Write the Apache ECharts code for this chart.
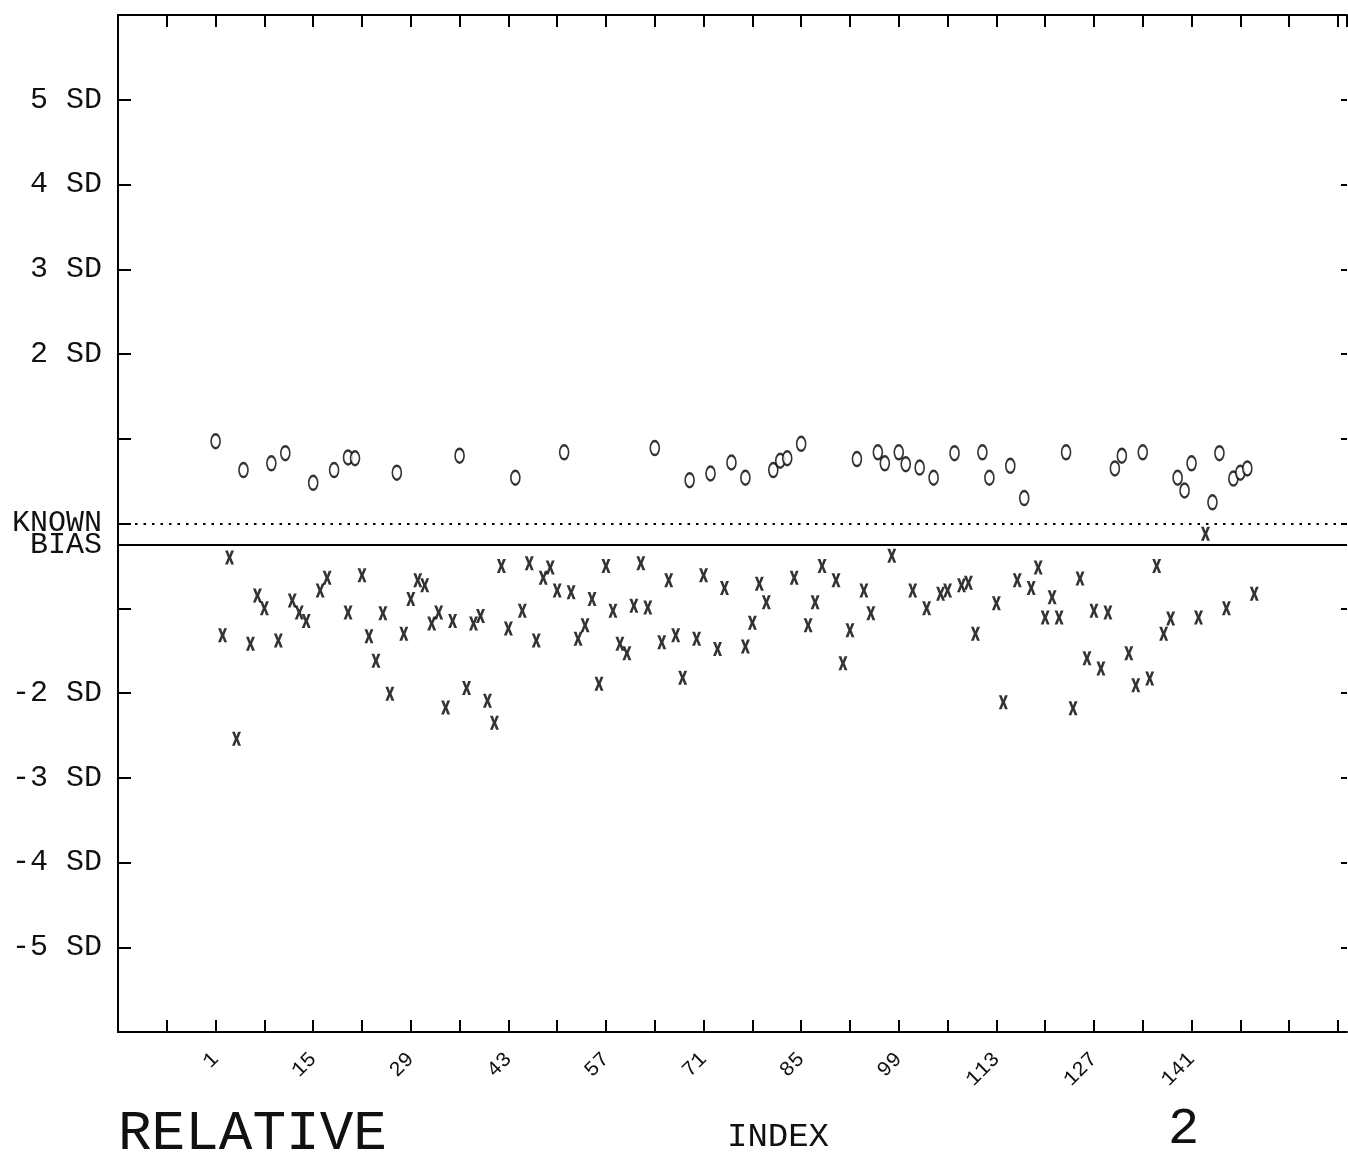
<!DOCTYPE html>
<html>
<head>
<meta charset="utf-8">
<script src="https://cdn.jsdelivr.net/npm/echarts@6/dist/echarts.min.js"></script>
<style>
html,body{margin:0;padding:0;background:#fff;}
#chart{width:1348px;height:1159px;}
</style>
</head>
<body>
<div id="chart"></div>
<script>
// ---- data (index, relative deviation in SD units) ----
const oPoints = [
  [1,0.97],[5,0.63],[9,0.71],[11,0.83],[15,0.48],[18,0.63],[20,0.78],[21,0.77],
  [27,0.60],[36,0.80],[44,0.54],[51,0.84],[64,0.89],[69,0.51],[72,0.59],[75,0.72],
  [77,0.54],[81,0.63],[82,0.74],[83,0.77],[85,0.94],[93,0.76],[96,0.84],[97,0.71],
  [99,0.84],[100,0.70],[102,0.66],[104,0.54],[107,0.83],[111,0.84],[112,0.54],
  [115,0.68],[117,0.30],[123,0.84],[130,0.65],[131,0.80],[134,0.84],[139,0.54],
  [140,0.39],[141,0.71],[144,0.25],[145,0.83],[147,0.53],[148,0.60],[149,0.65]
];
const xPoints = [
  [2,-1.32],[3,-0.40],[4,-2.54],[6,-1.42],[7,-0.85],[8,-1.00],[10,-1.38],[12,-0.91],
  [13,-1.05],[14,-1.15],[16,-0.79],[17,-0.64],[20,-1.05],[22,-0.61],[23,-1.33],
  [24,-1.62],[25,-1.06],[26,-2.01],[28,-1.30],[29,-0.89],[30,-0.67],[31,-0.73],
  [32,-1.18],[33,-1.05],[34,-2.17],[35,-1.15],[37,-1.94],[38,-1.18],[39,-1.09],
  [40,-2.09],[41,-2.35],[42,-0.50],[43,-1.24],[45,-1.03],[46,-0.47],[47,-1.38],
  [48,-0.64],[49,-0.52],[50,-0.79],[52,-0.81],[53,-1.36],[54,-1.20],[55,-0.89],
  [56,-1.89],[57,-0.50],[58,-1.03],[59,-1.42],[60,-1.53],[61,-0.97],[62,-0.47],
  [63,-0.99],[65,-1.40],[66,-0.67],[67,-1.32],[68,-1.82],[70,-1.36],[71,-0.61],
  [73,-1.48],[74,-0.76],[77,-1.45],[78,-1.17],[79,-0.71],[80,-0.93],[84,-0.64],
  [86,-1.20],[87,-0.93],[88,-0.50],[90,-0.67],[91,-1.65],[92,-1.26],[94,-0.79],
  [95,-1.06],[98,-0.38],[101,-0.79],[103,-1.00],[105,-0.83],[106,-0.79],[108,-0.73],
  [109,-0.70],[110,-1.30],[113,-0.94],[114,-2.11],[116,-0.67],[118,-0.76],[119,-0.52],
  [120,-1.11],[121,-0.87],[122,-1.11],[124,-2.18],[125,-0.65],[126,-1.59],[127,-1.03],
  [128,-1.71],[129,-1.05],[132,-1.53],[133,-1.91],[135,-1.83],[136,-0.50],[137,-1.30],
  [138,-1.12],[142,-1.11],[143,-0.12],[146,-1.00],[150,-0.83]
];
const knownBias = 0;
const meanBias = -0.25;
const xTickLabels = [1,15,29,43,57,71,85,99,113,127,141];
const yTickLabels = {5:'5 SD',4:'4 SD',3:'3 SD',2:'2 SD','-2':'-2 SD','-3':'-3 SD','-4':'-4 SD','-5':'-5 SD'};
const titleLeft = 'RELATIVE';
const titleMid = 'INDEX';
const titleRight = '2';

// ---- chart ----
const FONT = '"Liberation Mono", "DejaVu Sans Mono", monospace';
const chart = echarts.init(document.getElementById('chart'), null, {renderer:'canvas'});
const xMin = -13, xMax = 163.3, xStep = 7;
const axisLine = {show:true, onZero:false, lineStyle:{color:'#000', width:2}};
const xTick = {show:true, inside:true, length:12, lineStyle:{color:'#000', width:2}};
const yTick = {show:true, inside:true, length:13, lineStyle:{color:'#000', width:2}};

const xSymbol = 'path://M0,0 L3.2,0 L5,4.5 L6.8,0 L10,0 L6.8,7 L10,14 L6.8,14 L5,9.5 L3.2,14 L0,14 L3.2,7 Z';

chart.setOption({
  animation:false,
  backgroundColor:'#fff',
  grid:{left:118, top:15, right:1, height:1017, containLabel:false},
  xAxis:[{
    type:'value', position:'bottom', min:xMin, max:xMax, interval:xStep,
    axisLine:axisLine, axisTick:xTick, splitLine:{show:false},
    axisLabel:{
      show:true, rotate:45, margin:24, color:'#111', fontFamily:FONT, fontSize:21,
      showMinLabel:true, showMaxLabel:false,
      formatter:v => xTickLabels.indexOf(Math.round(v)) >= 0 && Math.abs(v-Math.round(v))<1e-6 ? String(Math.round(v)) : ''
    }
  },{
    type:'value', position:'top', min:xMin, max:xMax, interval:xStep,
    axisLine:axisLine, axisTick:xTick, axisLabel:{show:false}, splitLine:{show:false}
  }],
  yAxis:[{
    type:'value', position:'left', min:-6, max:6, interval:1,
    axisLine:axisLine, axisTick:yTick, splitLine:{show:false},
    axisLabel:{
      show:true, margin:16, color:'#111', fontFamily:FONT, fontSize:30,
      formatter:v => yTickLabels[String(v)] || ''
    }
  },{
    type:'value', position:'right', min:-6, max:6, interval:1,
    axisLine:{show:false, onZero:false},
    axisTick:{show:true, inside:true, length:6, lineStyle:{color:'#000', width:2}},
    axisLabel:{show:false}, splitLine:{show:false}
  }],
  series:[{
    type:'scatter', name:'o', data:oPoints, symbol:'circle', symbolSize:[9,14],
    itemStyle:{color:'#fff', borderColor:'#000', borderWidth:2},
    silent:true,
    markLine:{
      silent:true, symbol:['none','none'],
      data:[
        {yAxis:knownBias, lineStyle:{color:'#000', width:2.2, type:[2.5,6]},
         label:{formatter:'KNOWN'}},
        {yAxis:meanBias, lineStyle:{color:'#000', width:2, type:'solid'},
         label:{formatter:'BIAS'}}
      ],
      label:{show:true, position:'start', distance:16, color:'#111', fontFamily:FONT, fontSize:30}
    }
  },{
    type:'scatter', name:'x', data:xPoints, symbol:xSymbol, symbolSize:[9,14],
    itemStyle:{color:'#000'}, silent:true
  }],
  graphic:[
    {type:'text', left:118, top:1106, style:{text:titleLeft, font:'56px '+FONT, fill:'#111'}},
    {type:'text', left:727, top:1120, style:{text:titleMid, font:'34px '+FONT, fill:'#111'}},
    {type:'text', left:1168, top:1103, style:{text:titleRight, font:'52px '+FONT, fill:'#111'}}
  ]
});
</script>
</body>
</html>
